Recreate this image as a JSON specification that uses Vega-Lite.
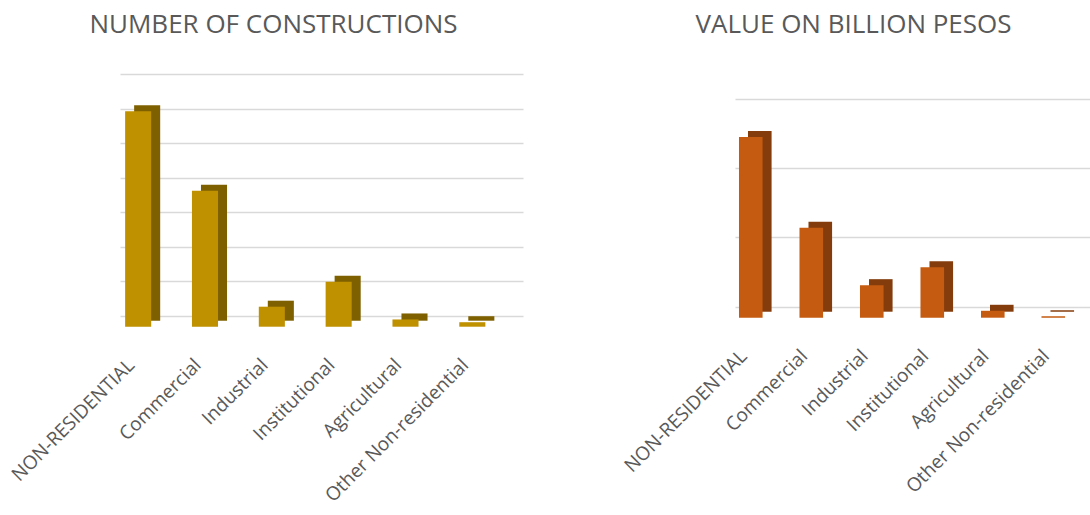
{
  "$schema": "https://vega.github.io/schema/vega-lite/v6.json",
  "padding": {"left": 8, "top": 11, "right": 0, "bottom": 0},
  "background": "white",
  "bounds": "flush",
  "spacing": 212,
  "config": {
    "view": {"stroke": null},
    "font": "Open Sans",
    "axisX": {"title": null, "labelAngle": -45, "labelAlign": "right", "labelBaseline": "middle", "labelFontSize": 19, "labelColor": "#595959", "labelFont": "Open Sans", "labelPadding": 46, "labelOffset": -7, "labelLimit": 0, "ticks": false, "domain": false, "grid": false},
    "axisY": {"title": null, "labels": false, "ticks": false, "domain": false, "grid": true, "gridColor": "#d9d9d9", "gridWidth": 1.5},
    "title": {"fontSize": 26, "fontWeight": "normal", "color": "#595959", "font": "Open Sans", "baseline": "alphabetic", "anchor": "middle", "offset": 32.5}
  },
  "datasets": {
    "counts": [
      {"category": "NON-RESIDENTIAL", "v": 6.25},
      {"category": "Commercial", "v": 3.94},
      {"category": "Industrial", "v": 0.58},
      {"category": "Institutional", "v": 1.30},
      {"category": "Agricultural", "v": 0.21},
      {"category": "Other Non-residential", "v": 0.13}
    ],
    "values": [
      {"category": "NON-RESIDENTIAL", "v": 2.61},
      {"category": "Commercial", "v": 1.30},
      {"category": "Industrial", "v": 0.47},
      {"category": "Institutional", "v": 0.73},
      {"category": "Agricultural", "v": 0.10},
      {"category": "Other Non-residential", "v": 0.02}
    ]
  },
  "hconcat": [
    {
      "width": 403,
      "height": 245.7,
      "title": {"text": "NUMBER OF CONSTRUCTIONS", "dx": -48},
      "data": {"name": "counts"},
      "encoding": {
        "x": {"field": "category", "type": "nominal", "sort": null, "scale": {"paddingInner": 0.61, "paddingOuter": 0.32, "align": 0.12}},
        "y": {"field": "v", "type": "quantitative", "scale": {"domain": [0, 7.124], "nice": false}, "axis": {"values": [0, 1, 2, 3, 4, 5, 6, 7]}}
      },
      "layer": [
        {"mark": {"type": "bar", "color": "#7F6000", "xOffset": 9, "yOffset": 5}},
        {"mark": {"type": "bar", "color": "#BF9000", "yOffset": 11}}
      ]
    },
    {
      "width": 355,
      "height": 236.7,
      "title": {"text": "VALUE ON BILLION PESOS", "dx": -59},
      "data": {"name": "values"},
      "encoding": {
        "x": {"field": "category", "type": "nominal", "sort": null, "scale": {"paddingInner": 0.61, "paddingOuter": 0.239, "align": 0.138}},
        "y": {"field": "v", "type": "quantitative", "scale": {"domain": [0, 3.419], "nice": false}, "axis": {"values": [0, 1, 2, 3]}}
      },
      "layer": [
        {"mark": {"type": "bar", "color": "#843C0C", "xOffset": 9, "yOffset": 5}},
        {"mark": {"type": "bar", "color": "#C55A11", "yOffset": 11}}
      ]
    }
  ]
}
